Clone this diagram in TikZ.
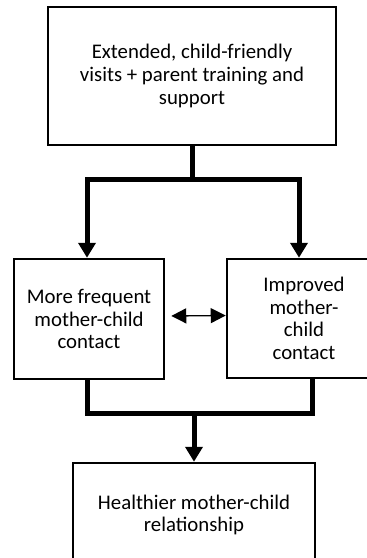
\documentclass[tikz,border=0pt]{standalone}
\usepackage{fontspec}
\setmainfont{Carlito}
\usepackage{tikz}
\usetikzlibrary{arrows.meta}
\tikzstyle{box}=[draw=black,line width=2.5pt,align=center,inner sep=0pt,font=\fontsize{20.8}{22.6}\selectfont]
\tikzstyle{link}=[line width=5pt]
\tikzstyle{linkto}=[line width=5pt,-{Triangle[length=15pt,width=17pt]}]
\tikzstyle{both}=[line width=1.3pt,{Triangle[length=15pt,width=15pt]}-{Triangle[length=15pt,width=15pt]}]

\begin{document}
\begin{tikzpicture}[x=1pt,y=-1pt]
        \useasboundingbox (0,0) rectangle (367,558);
        \clip (0,0) rectangle (367,558);
        \node at (192,76) [box,minimum width=288pt,minimum height=138pt] (visits) {Extended, child-friendly\\visits + parent training and\\support};
        \node at (89,319) [box,minimum width=150pt,minimum height=120pt] (frequent) {More frequent\\mother-child\\contact};
        \node at (304,318.5) [box,minimum width=154pt,minimum height=119pt] (improved) {Improved\\mother-\\child\\contact};
        \node at (194,515) [box,minimum width=242pt,minimum height=104pt] (healthier) {Healthier mother-child\\relationship};
        \draw [link] (visits.south) -- ++(0,33) coordinate (split);
        \draw [linkto] ([xshift=2.5pt]split) -| ([xshift=-2pt]frequent.north);
        \draw [linkto] ([xshift=-2.5pt]split) -| ([xshift=-5pt]improved.north);
        \draw [both] ([xshift=6pt,yshift=3pt]frequent.east) -- ([yshift=3pt]improved.west);
        \draw [link] ([xshift=-2pt]frequent.south) -- ++(0,33) coordinate (join) -| ([xshift=8pt]improved.south);
        \draw [linkto] (join -| healthier.north) -- (healthier.north);
      \end{tikzpicture}
\end{document}
